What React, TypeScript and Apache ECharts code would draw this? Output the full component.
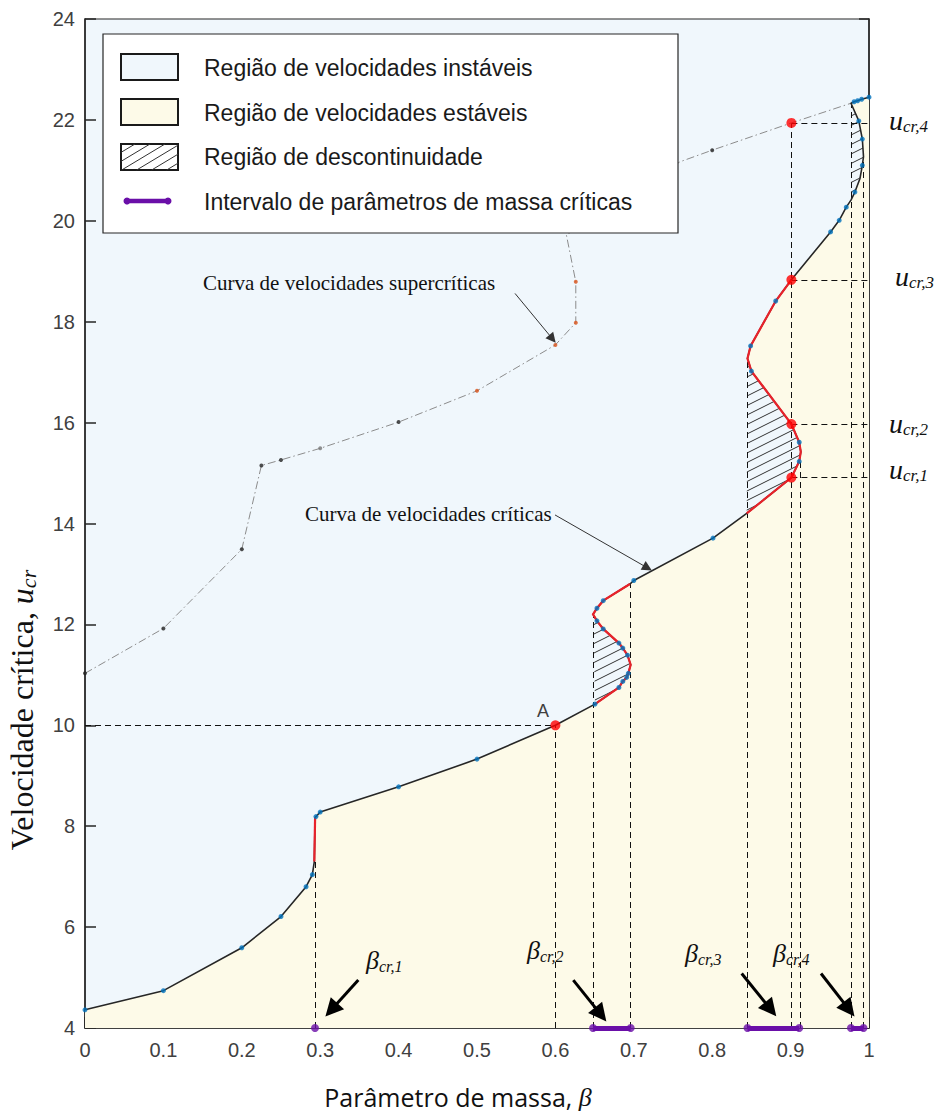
import React, { useEffect, useRef } from 'react';
import * as echarts from 'echarts';

// ---------- DATA ----------
// critical velocity curve: [beta, u_cr, hasMarker]
const critCurve: [number, number, number][] = [
  [0, 4.36, 1], [0.1, 4.74, 1], [0.2, 5.59, 1], [0.25, 6.21, 1], [0.282, 6.8, 1], [0.29, 7.04, 1],
  [0.2925, 7.3, 0], [0.2935, 8.17, 0], [0.2946, 8.19, 1], [0.3, 8.28, 1], [0.4, 8.78, 1], [0.5, 9.33, 1],
  [0.6, 10.0, 0], [0.6505, 10.42, 1], [0.681, 10.75, 1], [0.686, 10.87, 1], [0.691, 10.95, 1],
  [0.693, 11.03, 1], [0.696, 11.2, 0], [0.692, 11.39, 1], [0.686, 11.53, 1], [0.681, 11.63, 1],
  [0.661, 11.91, 1], [0.653, 12.07, 1], [0.648, 12.2, 0], [0.653, 12.32, 1], [0.661, 12.47, 1],
  [0.695, 12.8, 0], [0.7, 12.87, 1], [0.801, 13.71, 1], [0.844, 14.2, 0], [0.901, 14.91, 0],
  [0.911, 15.23, 1], [0.913, 15.42, 0], [0.911, 15.61, 1], [0.901, 15.97, 0], [0.85, 17.02, 1],
  [0.845, 17.27, 0], [0.849, 17.52, 1], [0.881, 18.41, 1], [0.901, 18.83, 0], [0.951, 19.78, 1],
  [0.962, 20.01, 1], [0.971, 20.27, 1], [0.977, 20.41, 0], [0.982, 20.57, 1], [0.9885, 20.84, 0],
  [0.9915, 21.1, 1], [0.993, 21.27, 0], [0.9915, 21.62, 1], [0.987, 21.98, 1], [0.977, 22.33, 0],
  [0.981, 22.36, 1], [0.9855, 22.38, 1], [0.9906, 22.41, 1], [1.0, 22.45, 1],
];
// supercritical curve: [beta, u, marker] marker 0 black, 1 orange, 2 grey, -1 none
const superCurve: [number, number, number][] = [
  [0, 11.03, 0], [0.1, 11.92, 0], [0.2, 13.49, 0], [0.225, 15.15, 0], [0.25, 15.26, 0],
  [0.3, 15.49, 2], [0.4, 16.01, 0], [0.5, 16.63, 1], [0.6, 17.54, 1], [0.626, 17.98, 1],
  [0.626, 18.79, 1], [0.614, 19.72, -1], [0.759, 21.17, -1], [0.8, 21.4, 0], [0.901, 21.94, -1],
  [0.977, 22.33, -1],
];
// u ranges (start, end) along critical curve
const redSpans: [number, number][] = [[7.3, 8.17], [10.42, 12.8], [14.2, 18.83]];
const hatchSpans: [number, number][] = [[10.42, 12.2], [14.2, 17.27], [20.41, 22.33]];
const keyPoints: [number, number][] = [[0.6, 10.0], [0.901, 14.91], [0.901, 15.97], [0.901, 18.83], [0.901, 21.94]];
const criticalIntervals: [number, number][] = [[0.648, 0.696], [0.845, 0.911], [0.977, 0.993]];
const criticalSingles: number[] = [0.2934];
const ucrValues: number[] = [14.91, 15.97, 18.83, 21.94];
const ucrLabels: string[] = ['cr,1', 'cr,2', 'cr,3', 'cr,4'];
const betaLabels: string[] = ['cr,1', 'cr,2', 'cr,3', 'cr,4'];
const guideVerticals: [number, number][] = [
  [0.2934, 7.3], [0.6, 10], [0.648, 12.2], [0.696, 12.82], [0.845, 17.27],
  [0.901, 21.94], [0.912, 15.42], [0.977, 22.33], [0.993, 21.27],
];
const guideHorizontals: [number, number, number][] = [
  [0, 0.6, 10], [0.901, 1, 14.91], [0.901, 1, 15.97], [0.901, 1, 18.83], [0.901, 1, 21.94],
];
const thickArrows: [number, number][][] = [
  [[0.3486, 4.95], [0.3143, 4.36]], [[0.6228, 4.95], [0.6578, 4.27]],
  [[0.8376, 5.08], [0.8745, 4.37]], [[0.9388, 5.08], [0.9744, 4.37]],
];
const thinArrows: [number, number][][] = [
  [[0.5485, 18.56], [0.5963, 17.66]], [[0.5995, 14.17], [0.7175, 13.12]],
];
const xMin = 0, xMax = 1, xStep = 0.1;
const yMin = 4, yMax = 24, yStep = 2;
const legendItems: string[] = [
  'Região de velocidades instáveis',
  'Região de velocidades estáveis',
  'Região de descontinuidade',
  'Intervalo de parâmetros de massa críticas',
];

// ---------- helpers ----------
const sliceByU = (a: number, b: number) => {
  const i = critCurve.findIndex((p) => p[1] === a);
  const j = critCurve.findIndex((p) => p[1] === b);
  return critCurve.slice(i, j + 1).map((p) => [p[0], p[1]]);
};

function hatchSegments(poly: number[][], spacing: number, slope: number) {
  const cs = poly.map((p) => p[1] + slope * p[0]);
  const cmin = Math.min(...cs), cmax = Math.max(...cs);
  const segs: number[][][] = [];
  for (let c = Math.ceil(cmin / spacing) * spacing; c <= cmax; c += spacing) {
    const xs: number[][] = [];
    for (let i = 0; i < poly.length; i++) {
      const a = poly[i], b = poly[(i + 1) % poly.length];
      const fa = a[1] + slope * a[0] - c, fb = b[1] + slope * b[0] - c;
      if ((fa < 0 && fb >= 0) || (fb < 0 && fa >= 0)) {
        const t = fa / (fa - fb);
        xs.push([a[0] + t * (b[0] - a[0]), a[1] + t * (b[1] - a[1])]);
      }
    }
    xs.sort((p, q) => p[0] - q[0]);
    for (let k = 0; k + 1 < xs.length; k += 2) segs.push([xs[k], xs[k + 1]]);
  }
  return segs;
}

const SERIF = '"Liberation Serif", "Times New Roman", serif';
const SANS = '"Liberation Sans", Arial, sans-serif';
const AX = '#262626';

function txt(x: number, y: number, text: string, extra: any = {}, align = 'left', valign = 'middle', rotation = 0) {
  return {
    type: 'text', x, y, z: 100, rotation, silent: true,
    style: {
      text, align, verticalAlign: valign, textAlign: align, textVerticalAlign: valign,
      ...extra,
    },
  };
}

function buildOption() {
  const stablePoly = critCurve.map((p) => [p[0], p[1]]).concat([[xMax, yMin], [xMin, yMin]]);
  const g: any[] = [];
  // legend box
  g.push({ type: 'rect', z: 100, silent: true, shape: { x: 103, y: 34, width: 575, height: 199 }, style: { fill: '#fff', stroke: AX, lineWidth: 1.2 } });
  g.push({ type: 'rect', z: 101, silent: true, shape: { x: 121, y: 54, width: 57, height: 26 }, style: { fill: '#f0f7fc', stroke: '#1a1a1a', lineWidth: 2 } });
  g.push({ type: 'rect', z: 101, silent: true, shape: { x: 121, y: 99, width: 57, height: 26 }, style: { fill: '#fdfae8', stroke: '#1a1a1a', lineWidth: 2 } });
  g.push({ type: 'rect', z: 101, silent: true, shape: { x: 121, y: 144, width: 57, height: 26 }, style: { fill: '#fff', stroke: '#1a1a1a', lineWidth: 2 } });
  hatchSegments([[121, 144], [178, 144], [178, 170], [121, 170]], 9, 0.6).forEach((s) => {
    g.push({ type: 'line', z: 101, silent: true, shape: { x1: s[0][0], y1: s[0][1], x2: s[1][0], y2: s[1][1] }, style: { stroke: '#333', lineWidth: 1 } });
  });
  g.push({ type: 'line', z: 101, silent: true, shape: { x1: 127, y1: 201, x2: 168, y2: 201 }, style: { stroke: '#6a0fa8', lineWidth: 4.5 } });
  g.push({ type: 'circle', z: 101, silent: true, shape: { cx: 127, cy: 201, r: 3.5 }, style: { fill: '#6a0fa8' } });
  g.push({ type: 'circle', z: 101, silent: true, shape: { cx: 168, cy: 201, r: 3.5 }, style: { fill: '#6a0fa8' } });
  legendItems.forEach((t, i) => g.push(txt(204, 68 + i * 44.7, t, { font: `23px ${SANS}`, fill: '#1a1a1a' })));

  // annotations
  g.push(txt(203, 283, 'Curva de velocidades supercríticas', { font: `21px ${SERIF}`, fill: '#111' }));
  g.push(txt(305, 514, 'Curva de velocidades críticas', { font: `21px ${SERIF}`, fill: '#111' }));
  g.push(txt(543, 711, 'A', { font: `18px ${SANS}`, fill: '#404040' }, 'center'));

  const betaPos = [[366, 960], [527, 950], [685, 953], [773, 953]];
  betaLabels.forEach((s, i) => g.push(txt(betaPos[i][0], betaPos[i][1], `{b|β}{s|${s}}`, {
    rich: {
      b: { fontFamily: SERIF, fontStyle: 'italic', fontSize: 26, fill: '#111' },
      s: { fontFamily: SERIF, fontStyle: 'italic', fontSize: 16, fill: '#111', padding: [13, 0, 0, 0] },
    },
  })));
  const uPos = [[889, 469], [889, 423], [895, 276], [889, 120]];
  ucrLabels.forEach((s, i) => g.push(txt(uPos[i][0], uPos[i][1], `{u|u}{s|${s}}`, {
    rich: {
      u: { fontFamily: SERIF, fontStyle: 'italic', fontSize: 28, fill: '#111' },
      s: { fontFamily: SERIF, fontStyle: 'italic', fontSize: 17, fill: '#111', padding: [13, 0, 0, 0] },
    },
  })));

  // axis names
  g.push(txt(458, 1097, '{a|Parâmetro de massa, }{b|β}', {
    rich: {
      a: { fontFamily: '"Open Sans", sans-serif', fontSize: 25, fill: '#111' },
      b: { fontFamily: SERIF, fontStyle: 'italic', fontSize: 26, fill: '#111' },
    },
  }, 'center'));
  g.push(txt(22, 710, '{a|Velocidade crítica, }{u|u}{s|cr}', {
    rich: {
      a: { fontFamily: SERIF, fontSize: 32, fill: '#111' },
      u: { fontFamily: SERIF, fontStyle: 'italic', fontSize: 32, fill: '#111' },
      s: { fontFamily: SERIF, fontStyle: 'italic', fontSize: 22, fill: '#111', padding: [13, 0, 0, 0] },
    },
  }, 'center', 'middle', Math.PI / 2));

  const axisCommon = {
    type: 'value',
    axisLine: { show: true, lineStyle: { color: AX, width: 1.5 } },
    splitLine: { show: false },
  };

  return {
    animation: false,
    textStyle: { fontFamily: SANS },
    grid: {
      left: 85, top: 19, width: 784, height: 1009, show: true,
      backgroundColor: '#f0f7fc', borderColor: AX, borderWidth: 1.2, outerBoundsMode: 'none',
    },
    xAxis: {
      ...axisCommon, min: xMin, max: xMax, interval: xStep,
      axisTick: { inside: true, length: 11, lineStyle: { color: AX, width: 1.5 } },
      axisLabel: { fontSize: 20, color: '#404040', margin: 12, fontFamily: SANS },
    },
    yAxis: [
      {
        ...axisCommon, min: yMin, max: yMax, interval: yStep,
        axisTick: { inside: true, length: 11, lineStyle: { color: AX, width: 1.5 } },
        axisLabel: { fontSize: 20, color: '#404040', margin: 10, fontFamily: SANS },
      },
      {
        ...axisCommon, position: 'right', min: yMin, max: yMax, interval: yStep,
        axisTick: {
          inside: true, length: 10, lineStyle: { color: AX, width: 1.5 },
          customValues: [4, 6, 8, 10, 12, 14, 16, 18, 20, 22, 24, ...ucrValues],
        },
        axisLabel: { show: false },
      },
    ],
    graphic: { elements: g },
    series: [
      {
        type: 'custom', name: 'stable', z: 1, silent: true, data: [0],
        renderItem: (_p: any, api: any) => ({
          type: 'polygon', shape: { points: stablePoly.map((p) => api.coord(p)) },
          style: { fill: '#fdfae8' },
        }),
      },
      {
        type: 'custom', name: 'hatch', z: 2, silent: true, data: hatchSpans.map((_, i) => i),
        renderItem: (p: any, api: any) => {
          const span = hatchSpans[p.dataIndex];
          const poly = sliceByU(span[0], span[1]).map((q) => api.coord(q));
          const segs = hatchSegments(poly, 9.5, 0.5);
          return {
            type: 'group',
            children: segs.map((s) => ({
              type: 'line', shape: { x1: s[0][0], y1: s[0][1], x2: s[1][0], y2: s[1][1] },
              style: { stroke: '#333', lineWidth: 1 },
            })),
          };
        },
      },
      {
        type: 'lines', name: 'guides', coordinateSystem: 'cartesian2d', z: 3, silent: true,
        lineStyle: { color: '#111', width: 1, type: [6, 4], opacity: 1 },
        data: [
          ...guideVerticals.map((v) => ({ coords: [[v[0], yMin], [v[0], v[1]]] })),
          ...guideHorizontals.map((h) => ({ coords: [[h[0], h[2]], [h[1], h[2]]] })),
        ],
      },
      {
        type: 'line', name: 'super', z: 3, silent: true, showSymbol: false,
        lineStyle: { color: '#8c8c8c', width: 1, type: [8, 3, 1.5, 3] },
        data: superCurve.map((p) => [p[0], p[1]]),
      },
      {
        type: 'scatter', name: 'superDots', z: 3, silent: true, symbolSize: 4,
        data: superCurve.filter((p) => p[2] >= 0).map((p) => ({
          value: [p[0], p[1]],
          itemStyle: { color: p[2] === 1 ? '#d95319' : p[2] === 2 ? '#777' : '#222' },
        })),
      },
      {
        type: 'line', name: 'crit', z: 4, silent: true, showSymbol: false,
        lineStyle: { color: AX, width: 1.6 },
        data: critCurve.map((p) => [p[0], p[1]]),
      },
      {
        type: 'lines', name: 'red', coordinateSystem: 'cartesian2d', polyline: true, z: 5, silent: true,
        lineStyle: { color: '#e8222a', width: 2.2, opacity: 1 },
        data: redSpans.map((s) => ({ coords: sliceByU(s[0], s[1]) })),
      },
      {
        type: 'scatter', name: 'critDots', z: 6, silent: true, symbolSize: 5,
        itemStyle: { color: '#0072bd' },
        data: critCurve.filter((p) => p[2]).map((p) => [p[0], p[1]]),
      },
      {
        type: 'scatter', name: 'keyPoints', z: 7, silent: true, symbolSize: 10,
        itemStyle: { color: '#ff0000' },
        data: keyPoints,
      },
      {
        type: 'lines', name: 'thin arrows', coordinateSystem: 'cartesian2d', z: 7, silent: true,
        symbol: ['none', 'triangle'], symbolSize: 10,
        lineStyle: { color: '#333', width: 1, opacity: 1 },
        data: thinArrows.map((a) => ({ coords: a })),
      },
      {
        type: 'lines', name: 'thick arrows', coordinateSystem: 'cartesian2d', z: 7, silent: true, clip: false,
        symbol: ['none', 'triangle'], symbolSize: 18,
        lineStyle: { color: '#000', width: 3, opacity: 1 },
        data: thickArrows.map((a) => ({ coords: a })),
      },
      {
        type: 'lines', name: 'intervals', coordinateSystem: 'cartesian2d', z: 8, silent: true, clip: false,
        lineStyle: { color: '#6a0fa8', width: 5, opacity: 1 },
        data: criticalIntervals.map((r) => ({ coords: [[r[0], yMin], [r[1], yMin]] })),
      },
      {
        type: 'scatter', name: 'intervalEnds', z: 8, silent: true, clip: false, symbolSize: 8,
        itemStyle: { color: '#6a0fa8' },
        data: [
          ...criticalIntervals.flatMap((r) => [[r[0], yMin], [r[1], yMin]]),
          ...criticalSingles.map((x) => [x, yMin]),
        ],
      },
    ],
  };
}

export default function App() {
  const ref = useRef<HTMLDivElement>(null);
  useEffect(() => {
    const chart = echarts.init(ref.current as HTMLDivElement, null, { renderer: 'svg' });
    chart.setOption(buildOption() as any);
    return () => chart.dispose();
  }, []);
  return (
    <div
      ref={ref}
      style={{ position: 'absolute', left: 0, top: 0, width: 944, height: 1115, background: '#fff' }}
    />
  );
}
